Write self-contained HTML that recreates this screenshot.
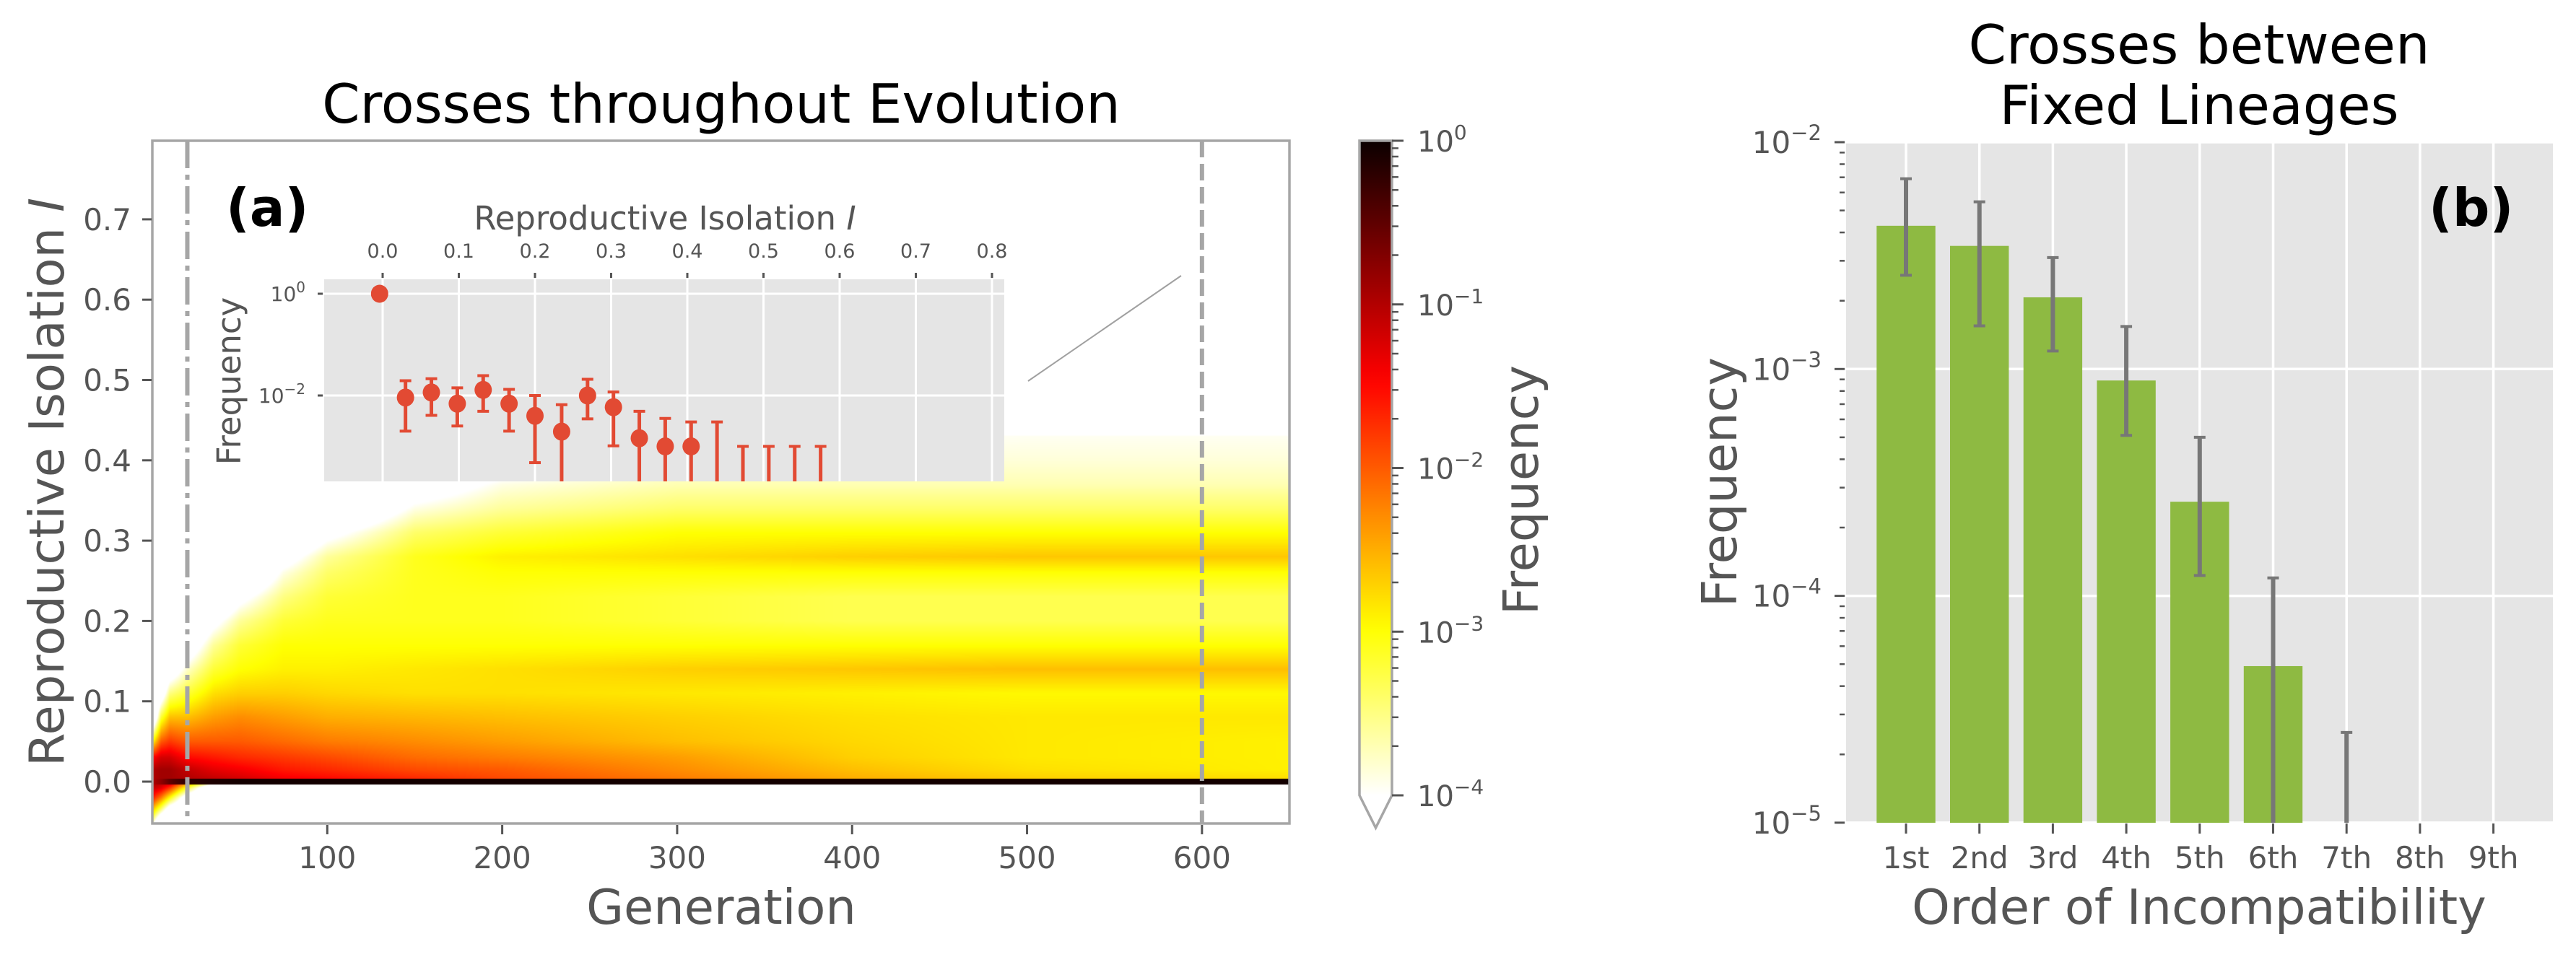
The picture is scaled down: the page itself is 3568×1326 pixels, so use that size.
<!DOCTYPE html>
<html><head><meta charset="utf-8">
<style>
html,body{margin:0;padding:0;background:#fff;width:3568px;height:1326px;overflow:hidden}
#heat{position:absolute;left:211px;top:195px}
#fig{position:absolute;left:0;top:0}
text{font-family:"DejaVu Sans","Liberation Sans",sans-serif}
</style></head>
<body>
<canvas id="heat" width="1575" height="946"></canvas>
<svg id="fig" width="3568" height="1326" xmlns="http://www.w3.org/2000/svg">
  <defs><linearGradient id="cbgrad" x1="0" y1="0" x2="0" y2="1"></linearGradient></defs>
  <text x="999" y="170" font-size="75" text-anchor="middle" fill="#000">Crosses throughout Evolution</text>
  <text transform="translate(88,668) rotate(-90)" font-size="67" text-anchor="middle" fill="#555">Reproductive Isolation <tspan font-style="italic">I</tspan></text>
  <text x="999" y="1280" font-size="67" text-anchor="middle" fill="#555">Generation</text>
  <text transform="translate(2130,679) rotate(-90)" font-size="67" text-anchor="middle" fill="#555">Frequency</text>
  <text x="3046" y="88" font-size="75" text-anchor="middle" fill="#000">Crosses between</text>
  <text x="3046" y="172" font-size="75" text-anchor="middle" fill="#000">Fixed Lineages</text>
  <text transform="translate(2405,668) rotate(-90)" font-size="67" text-anchor="middle" fill="#555">Frequency</text>
  <text x="3046" y="1280" font-size="67" text-anchor="middle" fill="#555">Order of Incompatibility</text>
  <g id="leftlayer"></g>
  <g id="insetlayer"></g>
  <g id="cblayer"></g>
  <g id="rightlayer"></g>
  <text x="313" y="313" font-size="72" font-weight="bold" fill="#000">(a)</text>
  <text x="3364" y="313" font-size="72" font-weight="bold" fill="#000">(b)</text>
  <text x="921" y="318" font-size="45" text-anchor="middle" fill="#555">Reproductive Isolation <tspan font-style="italic">I</tspan></text>
  <text transform="translate(333,528) rotate(-90)" font-size="45" text-anchor="middle" fill="#555">Frequency</text>
</svg>
<script>
// ---------- heatmap data (log10 frequency grid) ----------
const heatGens = [0,5,10,20,35,50,75,100,150,200,300,400,500,650];
const heatIso = [-0.05,-0.035,-0.02,-0.008,-0.003,0.004,0.015,0.03,0.05,0.08,0.11,0.14,0.17,0.20,0.23,0.26,0.28,0.31,0.34,0.37,0.40,0.43,0.46];
const heatLogFreq = [
 [-3.6,-5,-5,-5,-5,-5,-5,-5,-5,-5,-5,-5,-5,-5],
 [-2.6,-3.5,-4.5,-5,-5,-5,-5,-5,-5,-5,-5,-5,-5,-5],
 [-1.6,-2.2,-3.0,-4.5,-5,-5,-5,-5,-5,-5,-5,-5,-5,-5],
 [-1.1,-1.3,-1.8,-3.2,-5,-5,-5,-5,-5,-5,-5,-5,-5,-5],
 [-1.0,-1.1,-1.3,-2.5,-4,-5,-5,-5,-5,-5,-5,-5,-5,-5],
 [-1.0,-0.9,-0.9,-1.0,-1.1,-1.2,-1.4,-1.5,-1.7,-1.9,-2.2,-2.5,-2.7,-2.8],
 [-1.0,-0.9,-0.9,-1.1,-1.3,-1.4,-1.6,-1.7,-1.9,-2.0,-2.3,-2.6,-2.8,-2.9],
 [-1.5,-1.2,-1.2,-1.5,-1.6,-1.7,-1.8,-1.9,-2.1,-2.2,-2.4,-2.7,-2.85,-2.9],
 [-3.0,-2.0,-1.8,-2.0,-2.0,-2.0,-2.1,-2.2,-2.3,-2.4,-2.6,-2.75,-2.85,-2.9],
 [-5,-3.2,-2.6,-2.6,-2.4,-2.3,-2.4,-2.5,-2.55,-2.6,-2.7,-2.8,-2.85,-2.85],
 [-5,-4.5,-3.5,-3.2,-2.8,-2.7,-2.7,-2.75,-2.8,-2.8,-2.85,-2.9,-2.95,-2.95],
 [-5,-5,-4.5,-3.8,-3.2,-3.0,-2.9,-2.9,-2.85,-2.8,-2.7,-2.65,-2.6,-2.6],
 [-5,-5,-5,-4.5,-3.6,-3.2,-3.0,-3.0,-3.0,-3.0,-3.0,-3.0,-3.0,-3.0],
 [-5,-5,-5,-5,-4.2,-3.6,-3.2,-3.1,-3.1,-3.1,-3.2,-3.3,-3.3,-3.3],
 [-5,-5,-5,-5,-5,-4.2,-3.5,-3.2,-3.1,-3.1,-3.2,-3.3,-3.3,-3.3],
 [-5,-5,-5,-5,-5,-5,-3.9,-3.4,-3.1,-3.0,-3.0,-3.0,-3.0,-3.0],
 [-5,-5,-5,-5,-5,-5,-4.3,-3.6,-3.1,-2.9,-2.8,-2.7,-2.65,-2.65],
 [-5,-5,-5,-5,-5,-5,-5,-4.2,-3.4,-3.2,-3.0,-3.0,-3.0,-3.0],
 [-5,-5,-5,-5,-5,-5,-5,-5,-3.9,-3.6,-3.4,-3.4,-3.4,-3.4],
 [-5,-5,-5,-5,-5,-5,-5,-5,-4.4,-3.9,-3.7,-3.7,-3.7,-3.7],
 [-5,-5,-5,-5,-5,-5,-5,-5,-5,-4.4,-3.9,-3.85,-3.85,-3.85],
 [-5,-5,-5,-5,-5,-5,-5,-5,-5,-5,-4.5,-4.0,-3.95,-3.95],
 [-5,-5,-5,-5,-5,-5,-5,-5,-5,-5,-5,-5,-5,-5]
];
const zeroLineLogFreq = [-1.0,-0.8,-0.5,-0.2,-0.1,-0.05,-0.05,-0.05,-0.05,-0.05,-0.05,-0.05,-0.05,-0.05];
const genTicks = [100,200,300,400,500,600];
const isoTicks = [0.0,0.1,0.2,0.3,0.4,0.5,0.6,0.7];
const markerGens = [20,600];
// ---------- inset data ----------
const insetIso = [-0.004,0.030,0.064,0.098,0.132,0.166,0.200,0.235,0.269,0.303,0.337,0.371,0.405,0.439,0.473,0.507,0.541,0.575];
const insetLogFreq = [0,-2.04,-1.94,-2.16,-1.89,-2.16,-2.40,-2.71,-2.0,-2.23,-2.84,-3.0,-3.0,null,null,null,null,null];
const insetLogHi = [null,-1.71,-1.67,-1.85,-1.61,-1.88,-2.0,-2.18,-1.68,-1.93,-2.31,-2.45,-2.52,-2.52,-3.0,-3.0,-3.0,-3.0];
const insetLogLo = [null,-2.70,-2.39,-2.60,-2.31,-2.70,-3.32,null,-2.46,-2.99,null,null,null,null,null,null,null,null];
const insetXTicks = [0.0,0.1,0.2,0.3,0.4,0.5,0.6,0.7,0.8];
const insetYTicks = [0,-2];
// ---------- bar chart data ----------
const orders = ['1st','2nd','3rd','4th','5th','6th','7th','8th','9th'];
const barFreq = [4.28e-3,3.49e-3,2.07e-3,8.9e-4,2.6e-4,4.9e-5,0,0,0];
const errLow = [2.59e-3,1.55e-3,1.2e-3,5.1e-4,1.23e-4,0,0,null,null];
const errHigh = [6.9e-3,5.46e-3,3.1e-3,1.54e-3,5.0e-4,1.2e-4,2.5e-5,null,null];
const barDecades = [-2,-3,-4,-5];
const cbDecades = [0,-1,-2,-3,-4];

const NS='http://www.w3.org/2000/svg';
function mk(tag, attrs, parent){const e=document.createElementNS(NS,tag);for(const k in attrs)e.setAttribute(k,attrs[k]);parent.appendChild(e);return e;}
function sup(parent, x, y, anchor, base, exp, fs, name){
  const t=mk('text',{x:x,y:y,'font-size':fs,'text-anchor':anchor,fill:'#555'},parent);
  
  
  t.appendChild(document.createTextNode(base));
  const s=mk('tspan',{dy:-Math.round(fs*0.42),'font-size':Math.round(fs*0.7)},t);
  s.textContent=exp;
  return t;
}
function hotR(v){ // v = log10 freq, range -4..0
  let t=(v+4)/4; if(t<0)t=0; if(t>1)t=1; const tp=1-t;
  const c=x=>x<0?0:(x>1?1:x);
  return [c(0.0416+0.9584*tp/0.365), c((tp-0.365)/0.381), c((tp-0.746)/0.254)];
}
function interp(xs, ys, x){
  if(x<=xs[0])return ys[0]; if(x>=xs[xs.length-1])return ys[ys.length-1];
  for(let i=0;i<xs.length-1;i++){ if(x<=xs[i+1]){const f=(x-xs[i])/(xs[i+1]-xs[i]);return ys[i]+(ys[i+1]-ys[i])*f;} }
}
// ---------- scales ----------
const L=211,R=1786,T=195,B=1141;
const xG=g=>L+g*(R-L)/650;
const yI=v=>1083-v*1113;
const iL=449,iR=1391,iT=387,iB=667;
const xIn=v=>530+v*1055;
const yIn=lv=>407-lv*70.5;
const bL=2557,bR=3536,bT=197,bB=1140;
const xB=i=>2640+i*101.7;
const yB=f=>bT+(-2-Math.log10(f))*314.3;
const cbT=195,cbB=1102,cbL=1883,cbR=1928;
const yCb=lv=>cbT+(0-lv)*(cbB-cbT)/4;

// ---------- heatmap render ----------
(function(){
  const cv=document.getElementById('heat'); const ctx=cv.getContext('2d');
  const w=cv.width,h=cv.height; const img=ctx.createImageData(w,h); const d=img.data;
  for(let px=0;px<w;px++){
    const g=(px+0.5)*650/(R-L);
    const col=heatLogFreq.map(row=>interp(heatGens,row,g));
    const zl=interp(heatGens,zeroLineLogFreq,g);
    for(let py=0;py<h;py++){
      const iso=(1083-T-(py+0.5))/1113;
      let v;
      if(iso>-0.0035 && iso<0.0037) v=zl;
      else if(iso<heatIso[0]||iso>heatIso[heatIso.length-1]) v=-5;
      else v=interp(heatIso,col,iso);
      const c=hotR(v); const k=(py*w+px)*4;
      d[k]=c[0]*255; d[k+1]=c[1]*255; d[k+2]=c[2]*255; d[k+3]=255;
    }
  }
  ctx.putImageData(img,0,0);
})();

// ---------- left panel ----------
const lp=document.getElementById('leftlayer');
markerGens.forEach((g,i)=>{
  const ln=mk('line',{x1:xG(g),x2:xG(g),y1:T,y2:B,stroke:'#A6A6A6','stroke-width':6,'stroke-dasharray':i===0?'38 9 7 9':'23 9'},lp);
  
  
});
const spine=mk('rect',{x:L,y:T,width:R-L,height:B-T,fill:'none',stroke:'#A6A6A6','stroke-width':3.5},lp);


genTicks.forEach(g=>{
  const tk=mk('line',{x1:xG(g),x2:xG(g),y1:B+2,y2:B+15,stroke:'#555','stroke-width':3},lp);
  
  
  const tl=mk('text',{x:xG(g),y:1203,'font-size':42,'text-anchor':'middle',fill:'#555'},lp);
  
  
  tl.textContent=String(g);
});
isoTicks.forEach(v=>{
  const tk=mk('line',{x1:L-14,x2:L-1,y1:yI(v),y2:yI(v),stroke:'#555','stroke-width':3},lp);
  
  
  const tl=mk('text',{x:182,y:yI(v)+15,'font-size':42,'text-anchor':'end',fill:'#555'},lp);
  
  
  tl.textContent=v.toFixed(1);
});

// ---------- inset ----------
const ip=document.getElementById('insetlayer');
const ibg=mk('rect',{x:iL,y:iT,width:iR-iL,height:iB-iT,fill:'#E5E5E5'},ip);


insetXTicks.forEach(v=>{
  const gl=mk('line',{x1:xIn(v),x2:xIn(v),y1:iT,y2:iB,stroke:'#fff','stroke-width':3},ip);
  
  
  const tk=mk('line',{x1:xIn(v),x2:xIn(v),y1:378,y2:385,stroke:'#555','stroke-width':3},ip);
  
  
  const tl=mk('text',{x:xIn(v),y:357,'font-size':27,'text-anchor':'middle',fill:'#555'},ip);
  
  
  tl.textContent=v.toFixed(1);
});
insetYTicks.forEach(lv=>{
  const gl=mk('line',{x1:iL,x2:iR,y1:yIn(lv),y2:yIn(lv),stroke:'#fff','stroke-width':3},ip);
  
  
  const tk=mk('line',{x1:440,x2:447,y1:yIn(lv),y2:yIn(lv),stroke:'#555','stroke-width':3},ip);
  
  
  sup(ip,423,yIn(lv)+10,'end','10',lv===0?'0':'\u2212'+Math.abs(lv),28,'inset-y-tick-label');
});
insetIso.forEach((x,i)=>{
  const cx=xIn(x);
  if(insetLogHi[i]!==null){
    const top=yIn(insetLogHi[i]);
    const bot=insetLogLo[i]===null?iB:yIn(insetLogLo[i]);
    const eb=mk('line',{x1:cx,x2:cx,y1:top,y2:bot,stroke:'#E24A33','stroke-width':5},ip);
    
    
    const c1=mk('line',{x1:cx-8,x2:cx+8,y1:top,y2:top,stroke:'#E24A33','stroke-width':4},ip);
    
    
    if(insetLogLo[i]!==null){
      const c2=mk('line',{x1:cx-8,x2:cx+8,y1:bot,y2:bot,stroke:'#E24A33','stroke-width':4},ip);
      
      
    }
  }
  if(insetLogFreq[i]!==null){
    const pt=mk('ellipse',{cx:cx,cy:yIn(insetLogFreq[i]),rx:12,ry:12.5,fill:'#E24A33'},ip);
    
    
  }
});
const conn=mk('line',{x1:1424,y1:528,x2:1636,y2:382,stroke:'#A0A0A0','stroke-width':2},ip);



// ---------- colorbar ----------
const grad=document.getElementById('cbgrad');
for(let k=0;k<=40;k++){
  const lv=-k/10; const c=hotR(lv);
  const st=mk('stop',{offset:(k/40).toFixed(3),'stop-color':'rgb('+Math.round(c[0]*255)+','+Math.round(c[1]*255)+','+Math.round(c[2]*255)+')'},grad);
}
const cp=document.getElementById('cblayer');
const cbr=mk('rect',{x:cbL,y:cbT,width:cbR-cbL,height:cbB-cbT,fill:'url(#cbgrad)'},cp);


const cbo=mk('polygon',{points:cbL+','+cbT+' '+cbR+','+cbT+' '+cbR+','+cbB+' '+((cbL+cbR)/2)+',1147 '+cbL+','+cbB,fill:'none',stroke:'#A6A6A6','stroke-width':3.5},cp);


cbDecades.forEach(d=>{
  const tk=mk('line',{x1:cbR,x2:cbR+16,y1:yCb(d),y2:yCb(d),stroke:'#555','stroke-width':3},cp);
  
  
  sup(cp,1963,yCb(d)+15,'start','10',d===0?'0':'\u2212'+Math.abs(d),40,'colorbar-tick-label');
  if(d>-4){ for(let m=2;m<=9;m++){
    const y=yCb(d-1+Math.log10(m));
    const mt=mk('line',{x1:cbR,x2:cbR+9,y1:y,y2:y,stroke:'#555','stroke-width':2.5},cp);
    
    
  } }
});

// ---------- right bar panel ----------
const rp=document.getElementById('rightlayer');
const rbg=mk('rect',{x:bL,y:bT,width:bR-bL,height:bB-bT,fill:'#E5E5E5'},rp);


barDecades.forEach(d=>{
  const y=yB(Math.pow(10,d));
  const gl=mk('line',{x1:bL,x2:bR,y1:y,y2:y,stroke:'#fff','stroke-width':3.5},rp);
  
  
  const tk=mk('line',{x1:2541,x2:2555,y1:y,y2:y,stroke:'#555','stroke-width':3},rp);
  
  
  sup(rp,2523,y+15,'end','10','\u2212'+Math.abs(d),42,'bar-y-tick-label');
  if(d>-5){ for(let m=2;m<=9;m++){
    const yy=yB(m*Math.pow(10,d-1));
    const mt=mk('line',{x1:2548,x2:2555,y1:yy,y2:yy,stroke:'#555','stroke-width':2.5},rp);
    
    
  } }
});
orders.forEach((o,i)=>{
  const gl=mk('line',{x1:xB(i),x2:xB(i),y1:bT,y2:bB,stroke:'#fff','stroke-width':3.5},rp);
  
  
});
orders.forEach((o,i)=>{
  const cx=xB(i);
  if(barFreq[i]>0){
    const top=Math.max(bT,yB(barFreq[i]));
    const br=mk('rect',{x:cx-40.7,y:top,width:81.4,height:bB-top,fill:'#8EBA42'},rp);
    
    
  }
  if(errHigh[i]!==null){
    const top=yB(errHigh[i]);
    const bot=errLow[i]>0?yB(errLow[i]):bB;
    const eb=mk('line',{x1:cx,x2:cx,y1:top,y2:bot,stroke:'#777','stroke-width':6},rp);
    
    
    const c1=mk('line',{x1:cx-8,x2:cx+8,y1:top,y2:top,stroke:'#777','stroke-width':4},rp);
    
    
    if(errLow[i]>0){
      const c2=mk('line',{x1:cx-8,x2:cx+8,y1:bot,y2:bot,stroke:'#777','stroke-width':4},rp);
      
      
    }
  }
  const tk=mk('line',{x1:cx,x2:cx,y1:bB+1,y2:bB+15,stroke:'#555','stroke-width':3},rp);
  
  
  const tl=mk('text',{x:cx,y:1203,'font-size':42,'text-anchor':'middle',fill:'#555'},rp);
  
  
  tl.textContent=o;
});
</script>
</body></html>
